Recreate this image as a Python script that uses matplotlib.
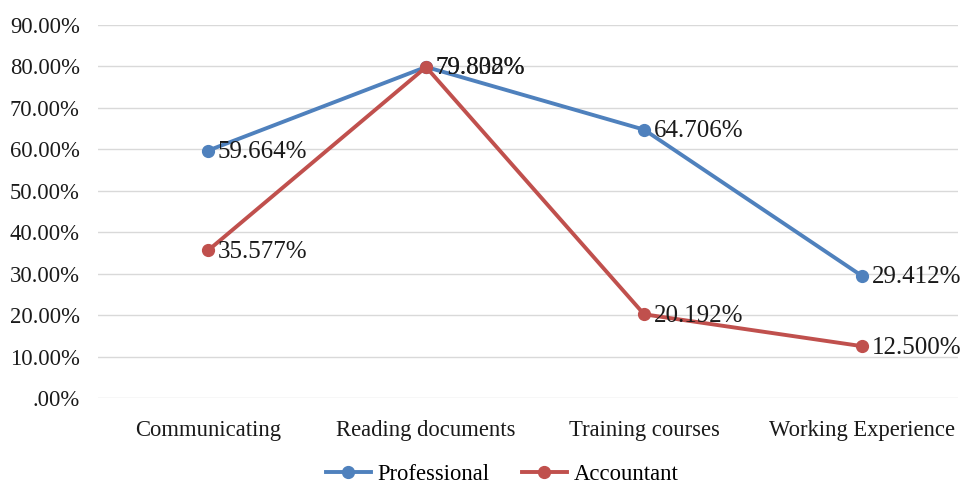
import numpy as np
import matplotlib
matplotlib.use('Agg')
import matplotlib.pyplot as plt
from matplotlib.ticker import FuncFormatter

categories = ['Communicating', 'Reading documents', 'Training courses', 'Working Experience']
professional = [0.59664, 0.79832, 0.64706, 0.29412]
accountant = [0.35577, 0.79808, 0.20192, 0.12500]

plt.rcParams['font.family'] = ['Liberation Serif', 'DejaVu Serif']

fig = plt.figure(figsize=(9.6, 4.86), dpi=100)
ax = fig.add_axes([0.102, 0.181, 0.896, 0.768])

x = np.arange(len(categories))
ax.plot(x, professional, color='#4f81bd', lw=2.8, marker='o', ms=8.5, label='Professional', zorder=3)
ax.plot(x, accountant, color='#c0504d', lw=2.8, marker='o', ms=8.5, label='Accountant', zorder=3)

for xi, v in zip(x, professional):
    ax.annotate('%.3f%%' % (v * 100), (xi, v), xytext=(7, -1), textcoords='offset points',
                va='center', ha='left', fontsize=18, color='#1a1a1a')
for xi, v in zip(x, accountant):
    ax.annotate('%.3f%%' % (v * 100), (xi, v), xytext=(7, -1), textcoords='offset points',
                va='center', ha='left', fontsize=18, color='#1a1a1a')

def pct(v, p):
    s = '%.2f%%' % (v * 100)
    return s[1:] if s.startswith('0.') else s

ax.set_xlim(-0.505, 3.44)
ax.set_ylim(0, 0.9)
ax.set_yticks(np.arange(0, 0.91, 0.1))
ax.yaxis.set_major_formatter(FuncFormatter(pct))
ax.set_xticks(x)
ax.set_xticklabels(categories)
ax.tick_params(length=0, labelsize=16.3, colors='#1a1a1a')
ax.tick_params(axis='y', pad=13)
ax.tick_params(axis='x', pad=16)
ax.grid(axis='y', color='#d9d9d9', lw=1)
ax.set_axisbelow(True)
for s in ax.spines.values():
    s.set_visible(False)

fig.legend(loc='center', bbox_to_anchor=(0.523, 0.024), ncol=2, frameon=False,
           fontsize=16.3, handlelength=2.0, handletextpad=0.3, columnspacing=1.4)

fig.savefig('out.png', dpi=100)
